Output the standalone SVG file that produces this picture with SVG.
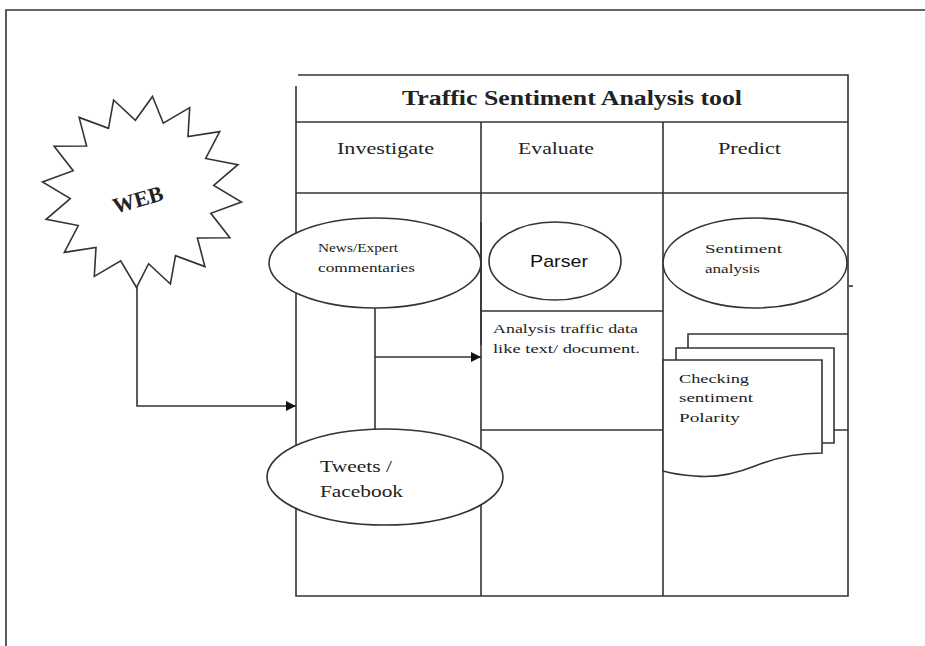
<svg xmlns="http://www.w3.org/2000/svg" width="925" height="646" viewBox="0 0 925 646">
<defs>
<style>
.ln{stroke:#333;stroke-width:1.6;fill:none}
.shape{stroke:#333;stroke-width:1.6;fill:#fff}
.t{font-family:"Liberation Serif",serif;fill:#222}
.s{font-family:"Liberation Sans",sans-serif;fill:#111}
</style>
<marker id="arr" viewBox="0 0 10 10" refX="10" refY="5" markerWidth="10" markerHeight="10" markerUnits="userSpaceOnUse" orient="auto">
<path d="M0,0 L10,5 L0,10 z" fill="#111"/>
</marker>
</defs>
<rect width="925" height="646" fill="#fff"/>
<g id="frame">
<path class="ln" d="M6,646 L6,10 L925,10" stroke-width="2"/>
</g>
<g id="table">
<path class="ln" d="M298,75 L848,75 L848,596 L296,596 L296,86"/>
<line class="ln" x1="296" y1="122" x2="848" y2="122"/>
<line class="ln" x1="296" y1="193" x2="848" y2="193" stroke-width="2.2"/>
<line class="ln" x1="481" y1="122" x2="481" y2="596"/>
<line class="ln" x1="663" y1="122" x2="663" y2="596"/>
<line class="ln" x1="481" y1="311" x2="663" y2="311"/>
<line class="ln" x1="481" y1="430" x2="848" y2="430"/>
<line class="ln" x1="849" y1="286" x2="853" y2="286" stroke-width="1"/>
<text class="t" x="572" y="105" font-size="20" font-weight="bold" text-anchor="middle" textLength="340" lengthAdjust="spacingAndGlyphs">Traffic Sentiment Analysis tool</text>
<text class="t" x="337" y="154" font-size="16" textLength="97" lengthAdjust="spacingAndGlyphs">Investigate</text>
<text class="t" x="518" y="154" font-size="16" textLength="76" lengthAdjust="spacingAndGlyphs">Evaluate</text>
<text class="t" x="718" y="154" font-size="16" textLength="63" lengthAdjust="spacingAndGlyphs">Predict</text>
</g>
<g id="web">
<polygon class="shape" points="152.5,96.5 163.3,123.2 189.7,107.6 188.0,136.6 219.7,131.6 205.7,158.5 237.9,164.7 213.7,185.4 241.5,202.0 210.8,213.3 229.9,237.8 197.4,238.0 204.9,266.6 175.5,255.7 170.4,284.0 148.6,263.7 136.5,287.5 120.7,260.8 94.3,276.4 96.0,247.4 64.3,252.4 78.3,225.5 46.1,219.3 70.3,198.6 42.5,182.0 73.2,170.7 54.1,146.2 86.6,146.0 79.1,117.4 108.5,128.3 113.6,100.0 135.4,120.3"/>
<text class="t" x="138" y="207" font-size="22" font-weight="bold" text-anchor="middle" transform="rotate(-16 138 200)">WEB</text>
</g>
<g id="connectors">
<path class="ln" d="M137,287 L137,406 L296,406" marker-end="url(#arr)"/>
<line class="ln" x1="375" y1="308" x2="375" y2="432"/>
<line class="ln" x1="375" y1="357" x2="481" y2="357" marker-end="url(#arr)"/>
</g>
<g id="news">
<ellipse class="shape" cx="375" cy="263" rx="106" ry="45"/>
<text class="t" x="318" y="252" font-size="12.5" textLength="80" lengthAdjust="spacingAndGlyphs">News/Expert</text>
<text class="t" x="318" y="272" font-size="12.5" textLength="97" lengthAdjust="spacingAndGlyphs">commentaries</text>
</g>
<g id="divider">
<line class="ln" x1="481" y1="222" x2="481" y2="345" stroke-width="2.4" stroke="#111"/>
</g>
<g id="parser">
<ellipse class="shape" cx="555" cy="261" rx="66" ry="39" stroke-width="2"/>
<text class="s" x="530" y="267" font-size="17" textLength="58" lengthAdjust="spacingAndGlyphs">Parser</text>
</g>
<g id="sentiment">
<ellipse class="shape" cx="755" cy="263" rx="92" ry="45"/>
<text class="t" x="705" y="253" font-size="12.5" textLength="77" lengthAdjust="spacingAndGlyphs">Sentiment</text>
<text class="t" x="705" y="273" font-size="12.5" textLength="55" lengthAdjust="spacingAndGlyphs">analysis</text>
</g>
<g id="analysis">
<text class="t" x="493" y="333" font-size="12.5" textLength="145" lengthAdjust="spacingAndGlyphs">Analysis traffic data</text>
<text class="t" x="493" y="353" font-size="12.5" textLength="147" lengthAdjust="spacingAndGlyphs">like text/ document.</text>
</g>
<g id="documents">
<path class="shape" d="M688,348 L688,334 L848,334"/>
<path class="shape" d="M676,362 L676,348 L834,348 L834,443 L822,443"/>
<path class="shape" d="M663,360 L822,360 L822,453 C795,453 775,458 755,466 C735,474 715,478 695,476 C680,475 670,473 663,471 Z"/>
<text class="t" x="679" y="383" font-size="13.5" textLength="70" lengthAdjust="spacingAndGlyphs">Checking</text>
<text class="t" x="679" y="402" font-size="13.5" textLength="74" lengthAdjust="spacingAndGlyphs">sentiment</text>
<text class="t" x="679" y="422" font-size="13.5" textLength="61" lengthAdjust="spacingAndGlyphs">Polarity</text>
</g>
<g id="tweets">
<ellipse class="shape" cx="385" cy="477" rx="118" ry="48"/>
<text class="t" x="320" y="472" font-size="17" textLength="72" lengthAdjust="spacingAndGlyphs">Tweets /</text>
<text class="t" x="320" y="497" font-size="17" textLength="83" lengthAdjust="spacingAndGlyphs">Facebook</text>
</g>
</svg>
